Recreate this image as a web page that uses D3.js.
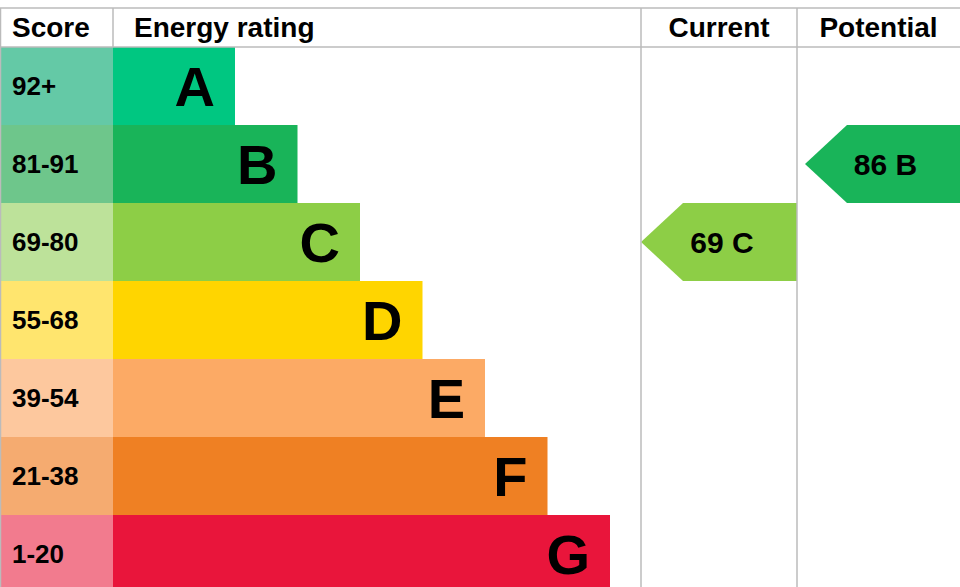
<!DOCTYPE html><html><head><meta charset="utf-8"><script src="https://cdn.jsdelivr.net/npm/d3@7"></script>
<style>body{margin:0}svg{display:block}</style></head><body><script>
const bands=["A","B","C","D","E","F","G"];
const ranges=["92+","81-91","69-80","55-68","39-54","21-38","1-20"];
const barColors=["#00c781","#19b459","#8dce46","#ffd500","#fcaa65","#ef8023","#e9153b"];
const scoreColors=["#64c9a6","#6ec68b","#bde29a","#ffe56e","#fdc89e","#f5ab70","#f27b8e"];
const current={value:69,band:"C"}, potential={value:86,band:"B"};
const W=960,H=587;
const svg=d3.select("body").append("svg").attr("width",W).attr("height",H).style("font-family","Liberation Sans, Arial, sans-serif").style("font-weight","bold");
const y=d3.scaleBand().domain(bands).range([47,47+78*7]);
const xEnd=d3.scaleLinear().domain([0,6]).range([235,610]);
const x0=113, cL=641, pL=797;
const rows=svg.selectAll("g.r").data(bands).join("g");
rows.append("rect").attr("x",0).attr("y",d=>y(d)).attr("width",x0).attr("height",y.bandwidth()).attr("fill",(d,i)=>scoreColors[i]);
rows.append("rect").attr("x",x0).attr("y",d=>y(d)).attr("width",(d,i)=>xEnd(i)-x0).attr("height",y.bandwidth()).attr("fill",(d,i)=>barColors[i]);
rows.append("text").attr("x",12).attr("y",d=>y(d)+y.bandwidth()/2+9).attr("font-size",26).text((d,i)=>ranges[i]);
rows.append("text").attr("x",(d,i)=>xEnd(i)-20).attr("y",d=>y(d)+y.bandwidth()/2+20).attr("text-anchor","end").attr("font-size",56).text(d=>d);
function arrow(o,l,r){const i=bands.indexOf(o.band),t=y(o.band),b=t+y.bandwidth(),m=t+y.bandwidth()/2;
 svg.append("path").attr("d",`M${l},${m}L${l+42},${t}L${r},${t}L${r},${b}L${l+42},${b}Z`).attr("fill",barColors[i]);
 svg.append("text").attr("x",(l+r)/2+3).attr("y",m+11).attr("text-anchor","middle").attr("font-size",30).text(o.value+" "+o.band);}
arrow(current,cL,pL);arrow(potential,pL+8,W);
const g="#bbb";
[[0,8,W,8],[0,47,W,47],[0.5,8,0.5,H],[x0,8,x0,47],[cL,8,cL,H],[pL,8,pL,H]].forEach(l=>svg.append("line").attr("x1",l[0]).attr("y1",l[1]).attr("x2",l[2]).attr("y2",l[3]).attr("stroke",g).attr("stroke-width",1.5));
const hy=37;
svg.append("text").attr("x",12).attr("y",hy).attr("font-size",28).text("Score");
svg.append("text").attr("x",134).attr("y",hy).attr("font-size",28).text("Energy rating");
svg.append("text").attr("x",(cL+pL)/2).attr("y",hy).attr("text-anchor","middle").attr("font-size",28).text("Current");
svg.append("text").attr("x",(pL+W)/2).attr("y",hy).attr("text-anchor","middle").attr("font-size",28).text("Potential");
</script></body></html>
